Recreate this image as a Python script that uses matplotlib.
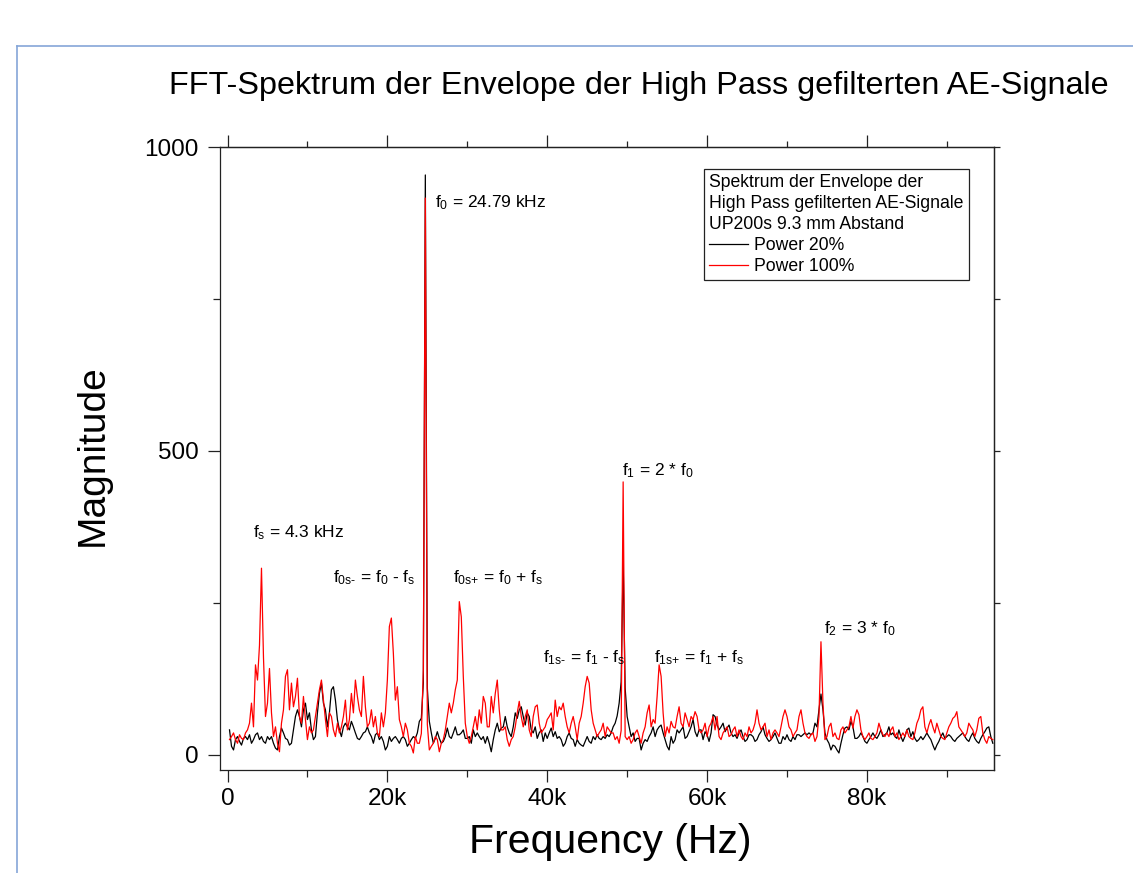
import numpy as np
import matplotlib
matplotlib.use("Agg")
import matplotlib.pyplot as plt
from matplotlib.lines import Line2D
from matplotlib.ticker import FixedLocator, MultipleLocator

plt.rcParams['font.family'] = ['Liberation Sans', 'DejaVu Sans']
plt.rcParams['mathtext.fontset'] = 'custom'
plt.rcParams['mathtext.rm'] = 'Liberation Sans'
plt.rcParams['mathtext.it'] = 'Liberation Sans'

# ---------------- data ----------------
bin_width = 250.0  # Hz per FFT bin

power100 = [
    25, 30, 36, 25, 19, 33, 27, 25, 36, 41, 52, 85, 46, 148, 123, 180, 307, 160, 63, 85,
    142, 69, 30, 46, 19, 5, 52, 74, 129, 140, 74, 118, 79, 96, 126, 63, 52, 96, 58, 25,
    46, 36, 41, 63, 85, 107, 123, 90, 58, 30, 69, 63, 41, 30, 52, 36, 46, 63, 90, 41,
    58, 101, 69, 123, 96, 74, 63, 129, 79, 46, 52, 74, 46, 63, 36, 30, 69, 46, 69, 123,
    211, 225, 167, 90, 112, 58, 46, 30, 52, 41, 19, 14, 3, 30, 19, 19, 35, 140, 916, 50,
    8, 14, 19, 30, 25, 5, 19, 25, 41, 63, 85, 69, 85, 107, 123, 252, 227, 129, 52, 30,
    19, 30, 46, 63, 41, 74, 52, 96, 85, 46, 46, 96, 69, 101, 123, 74, 41, 41, 46, 25,
    14, 25, 30, 46, 69, 88, 63, 46, 63, 74, 41, 30, 63, 79, 82, 52, 36, 41, 46, 58,
    63, 69, 41, 90, 63, 79, 74, 85, 63, 46, 36, 52, 63, 46, 25, 52, 63, 85, 112, 129,
    118, 74, 52, 41, 30, 36, 41, 52, 30, 46, 41, 36, 36, 25, 30, 19, 40, 449, 30, 25,
    30, 19, 25, 36, 41, 30, 19, 36, 46, 69, 82, 46, 58, 52, 96, 148, 129, 69, 30, 46,
    36, 55, 46, 44, 63, 79, 52, 46, 69, 58, 46, 63, 58, 71, 63, 41, 36, 41, 52, 30,
    46, 52, 63, 41, 63, 30, 25, 36, 41, 46, 30, 33, 41, 46, 30, 41, 30, 25, 36, 30,
    46, 36, 41, 52, 74, 52, 41, 46, 52, 30, 41, 25, 36, 41, 36, 30, 46, 63, 74, 63,
    46, 41, 30, 36, 41, 63, 74, 52, 36, 30, 27, 33, 36, 22, 30, 63, 186, 85, 25, 30,
    46, 52, 30, 36, 27, 25, 41, 46, 36, 41, 46, 63, 44, 63, 74, 66, 41, 30, 25, 30,
    36, 27, 25, 30, 36, 52, 41, 33, 30, 36, 30, 41, 46, 30, 36, 25, 30, 36, 30, 41,
    30, 27, 25, 36, 52, 60, 74, 79, 46, 36, 49, 58, 46, 36, 52, 41, 30, 27, 25, 36,
    46, 52, 60, 63, 71, 46, 41, 36, 30, 36, 52, 46, 41, 30, 41, 60, 63, 36, 25, 19,
    30, 27, 25,
]

power20 = [
    41, 14, 8, 25, 30, 22, 16, 27, 30, 25, 33, 19, 25, 33, 36, 25, 30, 22, 19, 30,
    25, 30, 19, 11, 8, 30, 44, 36, 27, 25, 16, 19, 41, 63, 74, 63, 46, 74, 85, 58,
    69, 41, 25, 30, 69, 101, 118, 85, 74, 46, 69, 107, 112, 90, 58, 41, 30, 46, 52, 46,
    41, 55, 46, 36, 27, 25, 30, 36, 38, 46, 36, 30, 19, 33, 36, 25, 30, 22, 8, 14,
    30, 22, 27, 30, 25, 19, 27, 30, 25, 14, 19, 25, 30, 27, 36, 55, 60, 118, 954, 110,
    55, 36, 19, 27, 38, 27, 19, 22, 30, 44, 30, 27, 36, 46, 33, 33, 36, 41, 27, 27,
    30, 19, 41, 30, 36, 30, 25, 30, 19, 30, 19, 5, 25, 41, 52, 38, 44, 46, 63, 46,
    36, 30, 46, 69, 60, 74, 79, 63, 49, 69, 63, 41, 36, 46, 27, 36, 41, 22, 36, 27,
    36, 44, 30, 38, 27, 30, 25, 14, 19, 30, 36, 27, 25, 14, 25, 19, 16, 14, 22, 30,
    22, 19, 30, 25, 33, 27, 25, 30, 27, 33, 30, 36, 46, 52, 64, 85, 120, 320, 110, 63,
    46, 30, 36, 22, 27, 27, 8, 19, 25, 22, 30, 36, 46, 30, 41, 46, 49, 36, 25, 14,
    8, 30, 19, 25, 41, 36, 41, 46, 27, 30, 38, 46, 58, 38, 30, 41, 41, 25, 38, 33,
    22, 36, 66, 63, 49, 41, 46, 52, 38, 44, 49, 36, 30, 33, 27, 36, 41, 30, 22, 25,
    33, 33, 30, 22, 25, 33, 38, 46, 33, 27, 22, 25, 30, 36, 27, 19, 19, 30, 25, 33,
    25, 22, 30, 25, 33, 33, 30, 33, 36, 33, 36, 33, 36, 52, 46, 74, 100, 74, 36, 25,
    19, 8, 16, 14, 8, 3, 19, 33, 44, 46, 41, 55, 46, 27, 27, 30, 36, 30, 22, 19,
    25, 30, 36, 30, 27, 33, 41, 30, 33, 36, 46, 33, 36, 30, 27, 41, 30, 22, 30, 41,
    44, 30, 38, 27, 22, 25, 30, 25, 30, 36, 30, 25, 16, 8, 16, 22, 30, 36, 27, 30,
    33, 30, 25, 22, 27, 30, 33, 36, 30, 25, 22, 30, 36, 27, 22, 19, 27, 33, 38, 44,
    46, 30, 19,
]

freq = bin_width * np.arange(1, len(power100) + 1)

x_ticks = [0, 20000, 40000, 60000, 80000]
x_tick_labels = ["0", "20k", "40k", "60k", "80k"]
y_ticks = [0, 500, 1000]
y_tick_labels = ["0", "500", "1000"]

series_labels = ["Power 20%", "Power 100%"]
legend_title = ("Spektrum der Envelope der\nHigh Pass gefilterten AE-Signale\n"
                "UP200s 9.3 mm Abstand")

HY = "\u2010"  # hyphen used inside subscripts
annotations = [
    (3190, 358, r"$\mathregular{f_s}$ = 4.3 kHz"),
    (25940, 901, r"$\mathregular{f_0}$ = 24.79 kHz"),
    (13190, 283, r"$\mathregular{f_{0s" + HY + r"}}$ = $\mathregular{f_0}$ - $\mathregular{f_s}$"),
    (28190, 283, r"$\mathregular{f_{0s{+}}}$ = $\mathregular{f_0}$ + $\mathregular{f_s}$"),
    (39440, 153, r"$\mathregular{f_{1s" + HY + r"}}$ = $\mathregular{f_1}$ - $\mathregular{f_s}$"),
    (49310, 460, r"$\mathregular{f_1}$ = 2 * $\mathregular{f_0}$"),
    (53310, 153, r"$\mathregular{f_{1s{+}}}$ = $\mathregular{f_1}$ + $\mathregular{f_s}$"),
    (74690, 200, r"$\mathregular{f_2}$ = 3 * $\mathregular{f_0}$"),
]

# ---------------- figure ----------------
W, H = 1133, 873
fig = plt.figure(figsize=(W / 100, H / 100), dpi=100)
fig.patch.set_facecolor("white")

# light blue frame (top and left edges visible)
frame_col = "#85A6D8"
fig.add_artist(Line2D([16.5 / W, 1.0], [1 - 46 / H, 1 - 46 / H],
                      transform=fig.transFigure, color=frame_col, lw=1.2))
fig.add_artist(Line2D([16.5 / W, 16.5 / W], [0.0, 1 - 46 / H],
                      transform=fig.transFigure, color=frame_col, lw=1.2))

ax = fig.add_axes([220 / W, 1 - 770 / H, 774 / W, 623 / H])
l20, = ax.plot(freq, power20, color="black", lw=0.9)
l100, = ax.plot(freq, power100, color="red", lw=0.9)

ax.set_xlim(-940, 95900)
ax.set_ylim(-25, 1000)

spine_col = "#222222"
for s in ax.spines.values():
    s.set_color(spine_col)
    s.set_linewidth(0.9)

ax.xaxis.set_major_locator(FixedLocator(x_ticks))
ax.set_xticklabels(x_tick_labels)
ax.xaxis.set_minor_locator(MultipleLocator(10000))
ax.yaxis.set_major_locator(FixedLocator(y_ticks))
ax.set_yticklabels(y_tick_labels)
ax.yaxis.set_minor_locator(MultipleLocator(250))

ax.tick_params(axis="both", which="major", direction="out", length=8.8, width=0.9,
               labelsize=17.5, color=spine_col, top=False, right=False)
ax.tick_params(axis="both", which="minor", direction="out", length=4.8, width=0.9,
               color=spine_col, top=False, right=False)
ax.tick_params(axis="y", which="major", pad=6.5)
ax.tick_params(axis="x", which="major", pad=4.5)

top = ax.secondary_xaxis("top")
top.xaxis.set_major_locator(FixedLocator(x_ticks))
top.xaxis.set_minor_locator(MultipleLocator(10000))
top.tick_params(which="major", direction="out", length=8.8, width=0.9, color=spine_col,
                labeltop=False)
top.tick_params(which="minor", direction="out", length=4.5, width=0.9, color=spine_col)
top.spines["top"].set_color(spine_col)
top.spines["top"].set_linewidth(0.9)

right = ax.secondary_yaxis("right")
right.yaxis.set_major_locator(FixedLocator(y_ticks))
right.yaxis.set_minor_locator(MultipleLocator(250))
right.tick_params(which="both", direction="out", length=4.4, width=0.9, color=spine_col,
                  labelright=False)
right.spines["right"].set_color(spine_col)
right.spines["right"].set_linewidth(0.9)

for x, y, txt in annotations:
    ax.text(x, y, txt, fontsize=12.5, ha="left", va="baseline")

leg = ax.legend([l20, l100], series_labels, title=legend_title,
                loc="upper right", bbox_to_anchor=(969 / W, 1 - 169 / H),
                bbox_transform=fig.transFigure, fontsize=12.7, title_fontsize=12.7,
                alignment="left", frameon=True, fancybox=False, edgecolor="#222222",
                framealpha=1, borderpad=0.3, handlelength=2.2, handletextpad=0.35,
                labelspacing=0.22, borderaxespad=0, shadow=False)
leg.get_frame().set_linewidth(0.9)
leg.get_title().set_linespacing(1.3)

fig.text(639 / W, 1 - 94 / H,
         "FFT-Spektrum der Envelope der High Pass gefilterten AE-Signale",
         ha="center", va="baseline", fontsize=23.3)
fig.text(93 / W, 1 - 455 / H, "Magnitude", rotation=90, ha="center", va="center",
         fontsize=28)
fig.text(610 / W, 1 - 853 / H, "Frequency (Hz)", ha="center", va="baseline",
         fontsize=29.5)

fig.savefig("out.png", dpi=100, facecolor="white")
